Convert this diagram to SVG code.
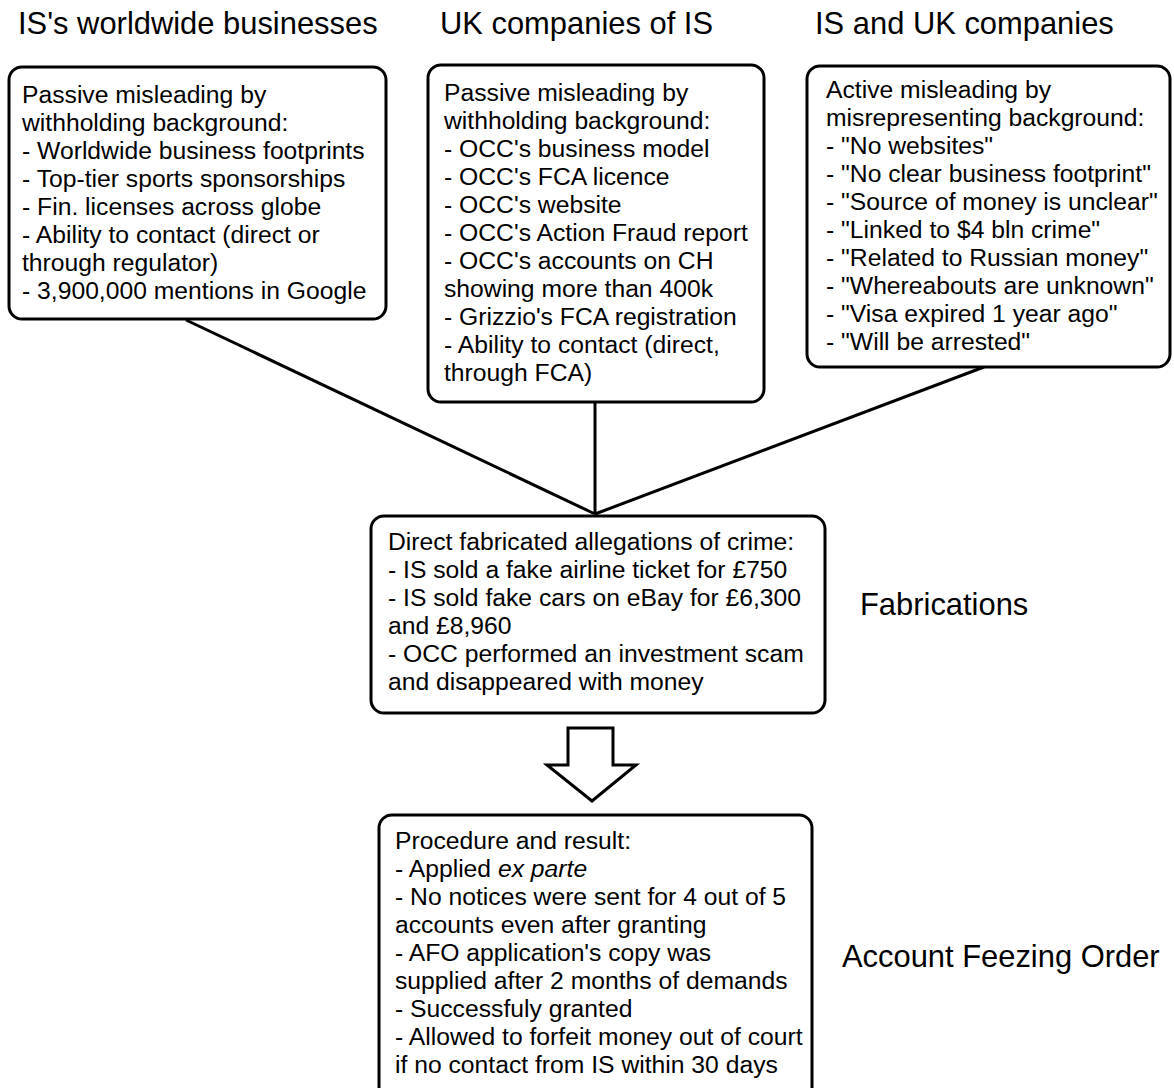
<svg xmlns="http://www.w3.org/2000/svg" width="1174" height="1088" viewBox="0 0 1174 1088">
<style>
.box{fill:#fff;stroke:#000;stroke-width:3}
.t{font-family:"Liberation Sans",Arial,sans-serif;font-size:24.7px;fill:#000}
.h{font-family:"Liberation Sans",Arial,sans-serif;font-size:30.9px;fill:#000}
.c{stroke:#000;stroke-width:3;fill:none}
</style>
<rect width="1174" height="1088" fill="#fff"/>
<g id="connectors">
<line class="c" x1="186" y1="320" x2="595" y2="514"/>
<line class="c" x1="595" y1="403" x2="595" y2="514"/>
<line class="c" x1="984" y1="367" x2="595" y2="514"/>
<polygon class="c" points="568,728 613,728 613,765 636,765 592,801 547,765 568,765" stroke-linejoin="miter"/>
</g>
<g id="titles">
<text class="h" x="18" y="34">IS's worldwide businesses</text>
<text class="h" x="440" y="34">UK companies of IS</text>
<text class="h" x="815" y="34">IS and UK companies</text>
</g>
<g id="n1">
<rect class="box" x="9" y="67" width="377" height="252" rx="13"/>
<text class="t" x="22" y="103">Passive misleading by</text>
<text class="t" x="22" y="131">withholding background:</text>
<text class="t" x="22" y="159">- Worldwide business footprints</text>
<text class="t" x="22" y="187">- Top-tier sports sponsorships</text>
<text class="t" x="22" y="215">- Fin. licenses across globe</text>
<text class="t" x="22" y="243">- Ability to contact (direct or</text>
<text class="t" x="22" y="271">through regulator)</text>
<text class="t" x="22" y="299">- 3,900,000 mentions in Google</text>
</g>
<g id="n2">
<rect class="box" x="428" y="65" width="336" height="337" rx="13"/>
<text class="t" x="444" y="101">Passive misleading by</text>
<text class="t" x="444" y="129">withholding background:</text>
<text class="t" x="444" y="157">- OCC's business model</text>
<text class="t" x="444" y="185">- OCC's FCA licence</text>
<text class="t" x="444" y="213">- OCC's website</text>
<text class="t" x="444" y="241">- OCC's Action Fraud report</text>
<text class="t" x="444" y="269">- OCC's accounts on CH</text>
<text class="t" x="444" y="297">showing more than 400k</text>
<text class="t" x="444" y="325">- Grizzio's FCA registration</text>
<text class="t" x="444" y="353">- Ability to contact (direct,</text>
<text class="t" x="444" y="381">through FCA)</text>
</g>
<g id="n3">
<rect class="box" x="807" y="66" width="363" height="301" rx="13"/>
<text class="t" x="826" y="98">Active misleading by</text>
<text class="t" x="826" y="126">misrepresenting background:</text>
<text class="t" x="826" y="154">- "No websites"</text>
<text class="t" x="826" y="182">- "No clear business footprint"</text>
<text class="t" x="826" y="210">- "Source of money is unclear"</text>
<text class="t" x="826" y="238">- "Linked to $4 bln crime"</text>
<text class="t" x="826" y="266">- "Related to Russian money"</text>
<text class="t" x="826" y="294">- "Whereabouts are unknown"</text>
<text class="t" x="826" y="322">- "Visa expired 1 year ago"</text>
<text class="t" x="826" y="350">- "Will be arrested"</text>
</g>
<g id="n4">
<rect class="box" x="371" y="516" width="454" height="197" rx="13"/>
<text class="t" x="388" y="550">Direct fabricated allegations of crime:</text>
<text class="t" x="388" y="578">- IS sold a fake airline ticket for £750</text>
<text class="t" x="388" y="606">- IS sold fake cars on eBay for £6,300</text>
<text class="t" x="388" y="634">and £8,960</text>
<text class="t" x="388" y="662">- OCC performed an investment scam</text>
<text class="t" x="388" y="690">and disappeared with money</text>
</g>
<g id="fabrications">
<text class="h" x="860" y="615">Fabrications</text>
</g>
<g id="n5">
<rect class="box" x="379" y="815" width="433" height="285" rx="13"/>
<text class="t" x="395" y="849">Procedure and result:</text>
<text class="t" x="395" y="877">- Applied <tspan font-style="italic">ex parte</tspan></text>
<text class="t" x="395" y="905">- No notices were sent for 4 out of 5</text>
<text class="t" x="395" y="933">accounts even after granting</text>
<text class="t" x="395" y="961">- AFO application's copy was</text>
<text class="t" x="395" y="989">supplied after 2 months of demands</text>
<text class="t" x="395" y="1017">- Successfuly granted</text>
<text class="t" x="395" y="1045">- Allowed to forfeit money out of court</text>
<text class="t" x="395" y="1073">if no contact from IS within 30 days</text>
</g>
<g id="afo">
<text class="h" x="842" y="967">Account Feezing Order</text>
</g>
</svg>
